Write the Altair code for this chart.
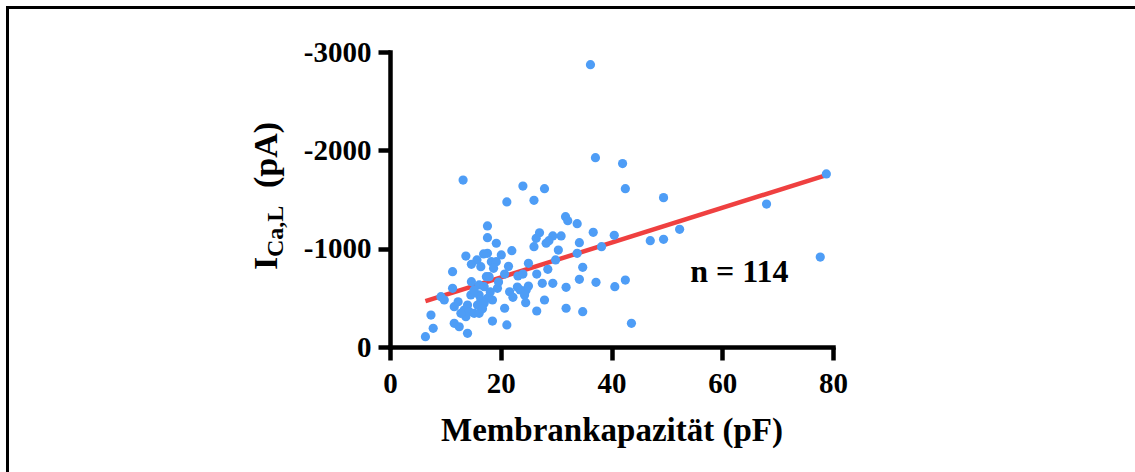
import altair as alt
import pandas as pd

# Membrane capacitance (pF) and L-type Ca current (pA)
cap_pf = [
    36.2, 37.1, 42.0, 42.5, 24.0, 27.9, 21.1, 26.0, 49.4, 78.8,
    68.0, 77.7, 52.3, 49.4, 47.0, 40.5, 36.7, 33.8, 31.7, 32.1,
    38.2, 34.2, 33.8, 34.8, 34.2, 37.2, 40.6, 42.5, 43.6, 34.8,
    31.8, 31.8, 30.9, 30.4, 29.9, 28.5, 29.4, 27.9, 26.5, 13.2,
    27.0, 26.4, 26.0, 29.4, 28.7, 28.2, 22.0, 20.1, 25.0, 20.7,
    23.1, 24.0, 26.5, 27.5, 25.0, 24.6, 23.5, 24.3, 21.6, 22.2,
    24.5, 20.7, 21.1, 17.6, 19.2, 13.7, 15.7, 14.7, 16.4, 17.6,
    18.3, 19.2, 18.7, 11.3, 17.4, 17.9, 14.7, 16.1, 17.0, 11.3,
    19.4, 9.2, 9.8, 14.6, 16.1, 16.4, 17.6, 18.5, 17.0, 15.8,
    11.6, 14.0, 13.4, 14.3, 13.7, 12.8, 15.2, 16.1, 18.5, 11.6,
    12.5, 14.0, 7.4, 7.8, 6.4, 17.6, 16.9, 15.2, 18.1, 16.7,
    19.6, 12.3, 21.4, 23.0,
]
ica_pa = [
    -2871, -1925, -1865, -1610, -1637, -1610, -1475, -1492, -1519, -1760,
    -1454, -915, -1197, -1095, -1081, -1136, -1166, -1254, -1325, -1284,
    -1020, -1061, -953, -810, -688, -658, -613, -681, -241, -359,
    -394, -607, -1129, -986, -885, -790, -648, -478, -366, -1698,
    -1162, -1105, -1020, -1129, -1081, -1055, -979, -936, -851, -742,
    -722, -742, -742, -648, -620, -580, -580, -529, -562, -505,
    -451, -394, -224, -1112, -1055, -925, -885, -841, -817, -953,
    -868, -868, -800, -766, -715, -715, -664, -631, -613, -597,
    -597, -512, -478, -529, -529, -478, -495, -478, -444, -427,
    -410, -427, -376, -359, -308, -343, -343, -343, -264, -241,
    -206, -139, -325, -190, -105, -1231, -946, -580, -560, -390,
    -660, -460, -820, -610,
]

# regression line end points
fit_x = [6.4, 78.8]
fit_y = [-466, -1748]

x_ticks = [0, 20, 40, 60, 80]
y_ticks = [-3000, -2000, -1000, 0]

n_text = ["n = 114"]
n_x = [63.1]
n_y = [-758]

FONT = "Liberation Serif"

pts = pd.DataFrame({"C": cap_pf, "I": ica_pa})
fit = pd.DataFrame({"C": fit_x, "I": fit_y})
lab = pd.DataFrame({"C": n_x, "I": n_y, "t": n_text})
one = pd.DataFrame({"k": [0]})

xs = alt.Scale(domain=[0, 80], nice=False, zero=False)
ys = alt.Scale(domain=[0, -3000], nice=False, zero=False)

x_axis = alt.Axis(
    values=x_ticks, title="Membrankapazität (pF)", grid=False,
    domainColor="black", domainWidth=4.5, domainCap="square",
    tickColor="black", tickWidth=4.5, tickSize=13, tickCap="butt",
    labelFont=FONT, labelFontSize=29, labelFontWeight="bold", labelColor="black",
    labelPadding=9, labelFlush=False,
    titleFont=FONT, titleFontSize=33, titleFontWeight="bold", titleColor="black",
    titleBaseline="alphabetic", titleY=93,
)
y_axis = alt.Axis(
    values=y_ticks, title=None, grid=False,
    labelExpr="datum.value == 0 ? '0' : '-' + abs(datum.value)",
    domainColor="black", domainWidth=4.5, domainCap="square",
    tickColor="black", tickWidth=4.5, tickSize=12,
    labelFont=FONT, labelFontSize=29, labelFontWeight="bold", labelColor="black",
    labelPadding=7, labelFlush=False,
)

line = alt.Chart(fit).mark_line(color="#EF4040", strokeWidth=4.5).encode(
    x=alt.X("C:Q", scale=xs, axis=x_axis),
    y=alt.Y("I:Q", scale=ys, axis=y_axis),
)
points = alt.Chart(pts).mark_circle(size=85, color="#4E9DF6", opacity=1).encode(
    x=alt.X("C:Q", scale=xs),
    y=alt.Y("I:Q", scale=ys),
)
ntext = alt.Chart(lab).mark_text(
    font=FONT, fontSize=32, fontWeight="bold", color="black", align="center", baseline="middle"
).encode(x=alt.X("C:Q", scale=xs), y=alt.Y("I:Q", scale=ys), text="t:N")

# y title pieces: I with subscript Ca,L, then (pA)
t_common = dict(font=FONT, fontWeight="bold", color="black", angle=270,
                align="left", baseline="alphabetic")
t_I = alt.Chart(one).mark_text(text="I", fontSize=34, **t_common).encode(
    x=alt.value(-113), y=alt.value(218))
t_sub = alt.Chart(one).mark_text(text="Ca,L", fontSize=24, **t_common).encode(
    x=alt.value(-107), y=alt.value(205))
t_pa = alt.Chart(one).mark_text(text="(pA)", fontSize=34, **t_common).encode(
    x=alt.value(-113), y=alt.value(136))

# frame lines
top_rule = alt.Chart(one).mark_rule(color="black", strokeWidth=3).encode(
    x=alt.value(-382.5), x2=alt.value(745), y=alt.value(-44.5))
left_rule = alt.Chart(one).mark_rule(color="black", strokeWidth=3).encode(
    x=alt.value(-382.5), y=alt.value(-46), y2=alt.value(420))

chart = alt.layer(
    line, points, ntext, t_I, t_sub, t_pa, top_rule, left_rule
).properties(
    width=443, height=295,
    padding={"left": 390, "top": 52, "right": 302, "bottom": 125},
    autosize=alt.AutoSizeParams(type="none"),
    background="white",
).configure_view(strokeWidth=0)

chart.save("out.html", embed_options={"renderer": "svg", "actions": False})
